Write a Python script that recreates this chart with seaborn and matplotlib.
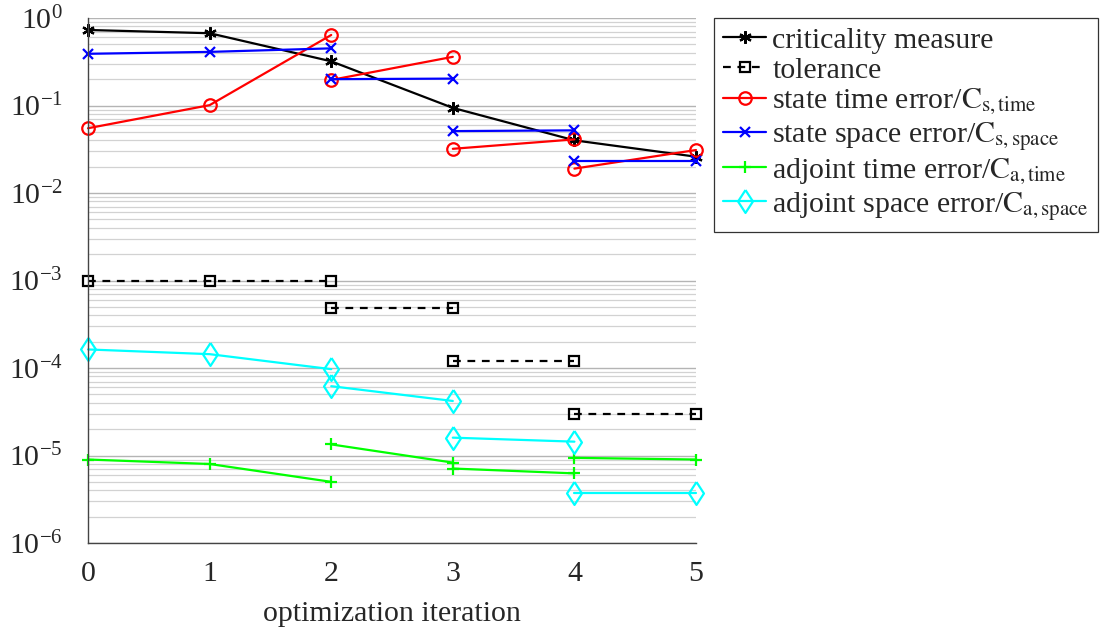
import numpy as np
import pandas as pd
import seaborn as sns
import matplotlib.pyplot as plt
from matplotlib.ticker import FixedLocator, NullFormatter, LogFormatterSciNotation

sns.set_style("white")
plt.rcParams['font.family'] = ['Liberation Serif', 'DejaVu Serif']
plt.rcParams['mathtext.fontset'] = 'stix'

# each series is drawn as separate segments (restarts at each iteration)
crit_x = [[0, 1, 2, 3, 4, 5]]
crit_y = [[0.73, 0.67, 0.32, 0.094, 0.040, 0.026]]

tol_x = [[0, 1, 2], [2, 3], [3, 4], [4, 5]]
tol_y = [[1e-3, 1e-3, 1e-3], [4.8e-4, 4.8e-4], [1.2e-4, 1.2e-4], [3.0e-5, 3.0e-5]]

st_time_x = [[0, 1, 2], [2, 3], [3, 4], [4, 5]]
st_time_y = [[0.055, 0.101, 0.64], [0.196, 0.36], [0.032, 0.041], [0.019, 0.031]]

st_space_x = [[0, 1, 2], [2, 3], [3, 4], [4, 5]]
st_space_y = [[0.39, 0.41, 0.45], [0.20, 0.203], [0.051, 0.052], [0.0234, 0.0234]]

adj_time_x = [[0, 1, 2], [2, 3], [3, 4], [4, 5]]
adj_time_y = [[9.0e-6, 8.0e-6, 5.0e-6], [1.34e-5, 8.3e-6], [7.1e-6, 6.25e-6], [9.4e-6, 9.0e-6]]

adj_space_x = [[0, 1, 2], [2, 3], [3, 4], [4, 5]]
adj_space_y = [[1.63e-4, 1.44e-4, 9.7e-5], [6.2e-5, 4.2e-5], [1.6e-5, 1.44e-5], [3.7e-6, 3.7e-6]]

y_major = [1e-6, 1e-5, 1e-4, 1e-3, 1e-2, 1e-1, 1e0]

diamond = [(0, 1), (0.65, 0), (0, -1), (-0.65, 0), (0, 1)]

series = [
    ("criticality measure", crit_x, crit_y, "black", (6, 2, 0), 9, "-"),
    ("tolerance", tol_x, tol_y, "black", "s", 6.5, (0, (3.5, 3))),
    (r"state time error/$\mathrm{C}_{\mathrm{s,time}}$", st_time_x, st_time_y, "#ff0000", "o", 9, "-"),
    (r"state space error/$\mathrm{C}_{\mathrm{s,space}}$", st_space_x, st_space_y, "#0000ff", "x", 7, "-"),
    (r"adjoint time error/$\mathrm{C}_{\mathrm{a,time}}$", adj_time_x, adj_time_y, "#00ff00", "+", 9, "-"),
    (r"adjoint space error/$\mathrm{C}_{\mathrm{a,space}}$", adj_space_x, adj_space_y, "#00ffff", diamond, 16.5, "-"),
]

fig = plt.figure(figsize=(11.06, 6.32), dpi=100)
ax = fig.add_axes([0.0796, 0.1408, 0.5497, 0.8307])

for name, xs, ys, col, mk, ms, ls in series:
    for k, (sx, sy) in enumerate(zip(xs, ys)):
        sns.lineplot(x=sx, y=sy, ax=ax, color=col, marker=mk, ms=ms, mfc='none',
                     mec=col, mew=1.6, lw=1.6, ls=ls, clip_on=False,
                     label=name if k == 0 else None, legend=False)

ax.set_yscale("log")
ax.set_xlim(0, 5)
ax.set_ylim(1e-6, 1)
ax.set_xticks(range(6))
# minor ticks 2..9 within each decade, only inside the axis range
minor = [m * d for d in y_major[:-1] for m in range(2, 10)]
ax.yaxis.set_major_locator(FixedLocator(y_major))
ax.yaxis.set_major_formatter(LogFormatterSciNotation())
ax.yaxis.set_minor_locator(FixedLocator(minor))
ax.yaxis.set_minor_formatter(NullFormatter())

ax.grid(True, which="major", axis="y", color="#b4b4b4", lw=1.0)
ax.grid(True, which="minor", axis="y", color="#d2d2d2", lw=0.9)
ax.set_axisbelow(True)

for s in ["top", "right"]:
    ax.spines[s].set_visible(False)
for s in ["left", "bottom"]:
    ax.spines[s].set_color("#444444")
    ax.spines[s].set_linewidth(1.0)
ax.tick_params(axis="y", which="major", direction="out", length=7, width=0.8,
               color="#555555", labelsize=21.5, pad=11)
ax.tick_params(axis="y", which="minor", direction="out", length=5, width=0.6, color="#777777")
ax.tick_params(axis="x", which="major", direction="out", length=4, width=0.8,
               color="#555555", labelsize=21.5, pad=9)
ax.set_xlabel("optimization iteration", fontsize=21.5, labelpad=10)
ax.yaxis.label.set_visible(False)

leg = ax.legend(loc="upper left", bbox_to_anchor=(1.0296, 1.0), fontsize=21.5,
                frameon=True, fancybox=False, edgecolor="#333333", framealpha=1,
                handlelength=1.45, handletextpad=0.2, labelspacing=0.1,
                borderpad=0.3, borderaxespad=0)
leg.get_frame().set_linewidth(0.9)

fig.savefig("out.png", dpi=100)
